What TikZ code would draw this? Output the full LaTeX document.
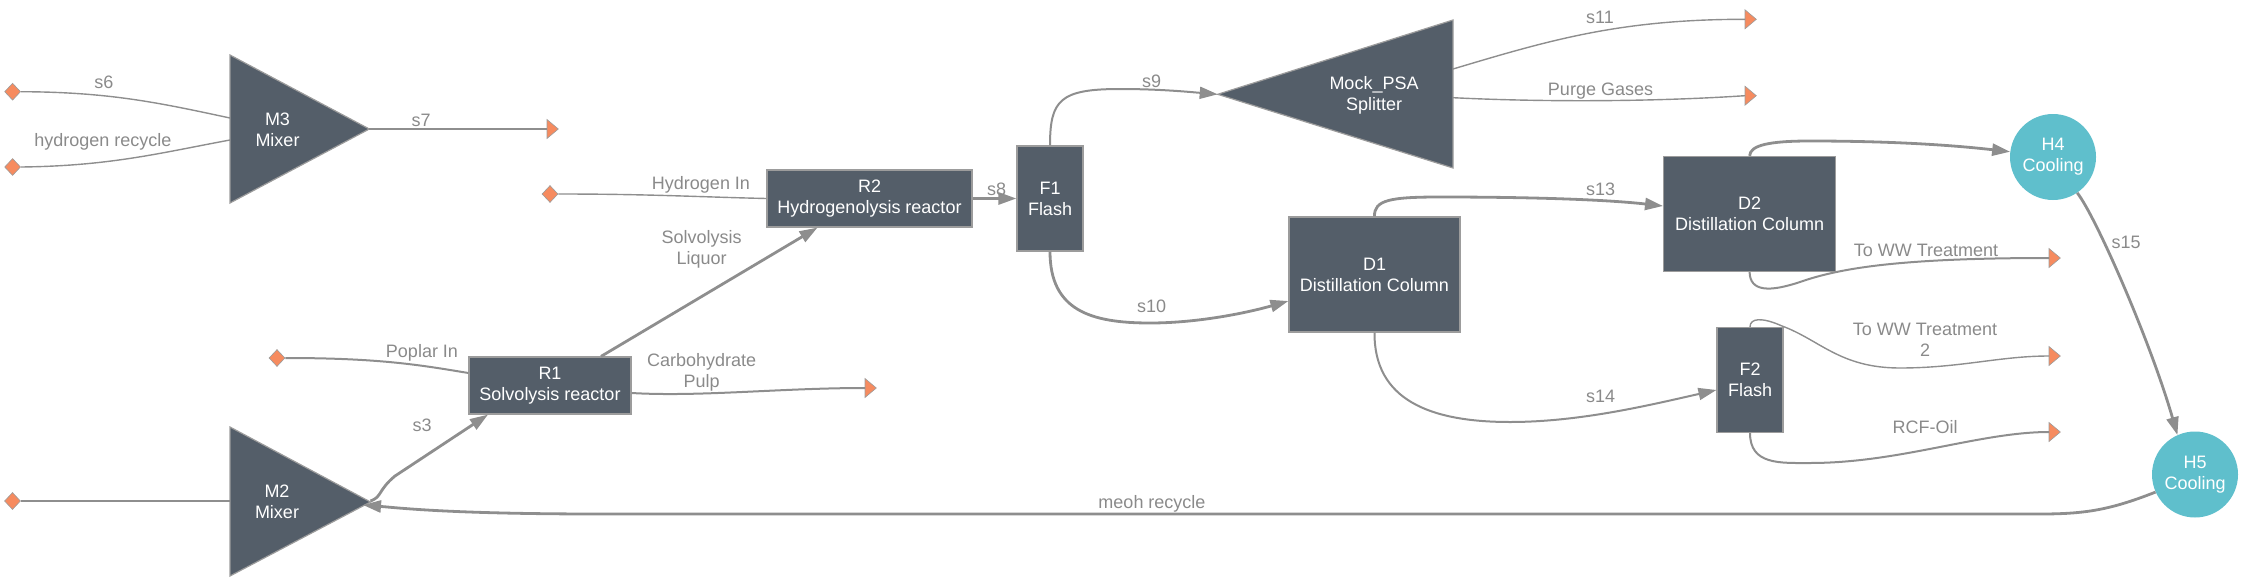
\documentclass[tikz,border=0pt]{standalone}
\usepackage{fontspec}
\setmainfont{Liberation Sans}
\usetikzlibrary{arrows.meta,shapes.geometric}
\definecolor{unitfill}{HTML}{545E69}
\definecolor{unitline}{HTML}{9C9C9C}
\definecolor{edgecol}{HTML}{8E8E8E}
\definecolor{labcol}{HTML}{8A8A8A}
\definecolor{orangec}{HTML}{F68B5F}
\definecolor{tealc}{HTML}{5FBFCC}
\begin{document}
\begin{tikzpicture}[x=1pt,y=-1pt,
  every node/.style={font=\fontsize{18}{21}\selectfont},
  unit/.style={draw=unitline, line width=1.2pt, fill=unitfill, text=white, align=center, inner sep=0pt},
  unitshape/.style={draw=unitline, line width=1.2pt, fill=unitfill},
  hx/.style={circle, fill=tealc, text=white, align=center, minimum size=86pt, inner sep=0pt},
  utext/.style={text=white, align=center, inner sep=0pt},
  lab/.style={text=labcol, align=center, inner sep=0pt},
  src/.style={diamond, fill=orangec, draw=unitline, line width=0.6pt, minimum width=16pt, minimum height=17pt, inner sep=0pt},
  sinkst/.style={fill=orangec, draw=unitline, line width=0.6pt},
  thinln/.style={draw=edgecol, line width=1.4pt},
  midln/.style={draw=edgecol, line width=2pt},
  thickln/.style={draw=edgecol, line width=2.8pt},
  arr/.style={-{Triangle[length=18pt,width=12pt]}},
]
\useasboundingbox (0,0) rectangle (2243,581);

% ---- triangles (mixers / splitter)
\filldraw[unitshape] (230,55) -- (369.3,129) -- (230,203) -- cycle;
\node[utext] (M3) at (277.5,130) {M3\\Mixer};
\coordinate (m3a) at (230,118);
\coordinate (m3b) at (230,140);
\coordinate (m3o) at (369.3,129);

\filldraw[unitshape] (230,427) -- (370.5,502) -- (230,576) -- cycle;
\node[utext] (M2) at (277,502) {M2\\Mixer};
\coordinate (m2a) at (230,501);
\coordinate (m2o) at (370.5,501);
\coordinate (m2i) at (363,505);

\filldraw[unitshape] (1453,20) -- (1217.7,94.3) -- (1453,168) -- cycle;
\node[utext] (PSA) at (1374,95.5) {Mock\_PSA\\Splitter};
\coordinate (psai) at (1217.7,94.3);
\coordinate (psaa) at (1453,69);
\coordinate (psab) at (1453,97.7);

% ---- boxes
\node[unit, minimum width=162pt, minimum height=57pt] (R1) at (550,385.5) {R1\\Solvolysis reactor};
\node[unit, minimum width=205pt, minimum height=57pt] (R2) at (869.5,198.5) {R2\\Hydrogenolysis reactor};
\node[unit, minimum width=66pt, minimum height=105pt] (F1) at (1050,198.5) {F1\\Flash};
\node[unit, minimum width=171pt, minimum height=115pt] (D1) at (1374.5,274.5) {D1\\Distillation Column};
\node[unit, minimum width=172pt, minimum height=115pt] (D2) at (1749.6,214) {D2\\Distillation Column};
\node[unit, minimum width=66pt, minimum height=105pt] (F2) at (1750,380) {F2\\Flash};
\node[hx] (H4) at (2053,157) {H4\\Cooling};
\node[hx] (H5) at (2195,474.5) {H5\\Cooling};

% ---- sources
\node[src] (src6) at (12.6,91.7) {};
\node[src] (srcHR) at (12.6,167) {};
\node[src] (srcH) at (550,194) {};
\node[src] (srcP) at (277,358) {};
\node[src] (srcM) at (12.5,501) {};

% ---- sinks
\coordinate (k7) at (547,129);
\coordinate (kC) at (865,388);
\coordinate (k11) at (1745,19.3);
\coordinate (kP) at (1745,95.7);
\coordinate (kW) at (2049,258);
\coordinate (kW2) at (2049,356);
\coordinate (kR) at (2049,432);
\foreach \k in {k7,kC,k11,kP,kW,kW2,kR}{
  \filldraw[sinkst] (\k) ++(0,-9.5) -- ++(11.3,9.5) -- ++(-11.3,9.5) -- cycle;
}

% ---- connectors
\draw[thinln] (src6.east) .. controls (110,92) and (160,103) .. (m3a);
\node[lab] at (104,82) {s6};
\draw[thinln] (srcHR.east) .. controls (110,166) and (160,153) .. (m3b);
\node[lab] at (103,142) {hydrogen recycle};
\draw[thinln] (m3o) -- (k7);
\node[lab] at (421,120) {s7};

\draw[thinln] (srcH.east) .. controls (650,194) and (700,197) .. (R2.west);
\node[lab] at (701,185) {Hydrogen In};
\draw[midln] (srcP.east) .. controls (380,358) and (420,365) .. ([yshift=12.5pt]R1.west);
\node[lab] at (422,353) {Poplar In};
\draw[midln] (srcM.east) -- (m2a);

\draw[thickln,arr] (m2o) .. controls (382,497) and (378,490) .. (395,476) -- ([xshift=-62pt]R1.south);
\node[lab] at (422,425) {s3};

\draw[thickln,arr] ([xshift=51pt]R1.north) -- ([xshift=-52pt]R2.south);
\node[lab] at (701.7,249.5) {Solvolysis\\Liquor};

\draw[midln] ([yshift=-7.5pt]R1.east) .. controls (700,397) and (780,388) .. (kC);
\node[lab] at (701.7,372.5) {Carbohydrate\\Pulp};

\draw[thickln,arr] (R2.east) -- (F1.west);
\node[lab] at (996.7,189) {s8};

\draw[midln,arr] (F1.north) .. controls (1050,100) and (1060,89) .. (1120,89) .. controls (1160,89) and (1190,92) .. (psai);
\node[lab] at (1151.5,81) {s9};

\draw[thinln] (psaa) .. controls (1550,40) and (1620,19.3) .. (k11);
\node[lab] at (1600,17) {s11};
\draw[thinln] (psab) .. controls (1540,102) and (1650,102) .. (kP);
\node[lab] at (1600.5,90.7) {Purge Gases};

\draw[thickln,arr] (F1.south) .. controls (1050,310) and (1090,323) .. (1150,323) .. controls (1200,323) and (1250,312) .. ([yshift=-26.5pt]D1.west);
\node[lab] at (1151.7,306) {s10};

\draw[thickln,arr] (D1.north) .. controls (1374,200) and (1390,197) .. (1440,197) .. controls (1540,197) and (1610,200) .. ([yshift=8pt]D2.west);
\node[lab] at (1600.7,189) {s13};

\draw[thickln,arr] (D2.north) .. controls (1750,145) and (1770,141) .. (1810,141) .. controls (1900,141) and (1960,146) .. (H4.173);

\draw[midln] (D2.south) .. controls (1750,292) and (1770,292) .. (1800,282) .. controls (1840,268) and (1900,258) .. (kW);
\node[lab] at (1926,250) {To WW Treatment};

\draw[midln,arr] (D1.south) .. controls (1374,400) and (1430,422) .. (1510,422) .. controls (1580,422) and (1650,405) .. ([yshift=-10pt]F2.west);
\node[lab] at (1600.7,396) {s14};

\draw[thinln] (F2.north) .. controls (1750,318) and (1762,317) .. (1782,326) .. controls (1820,340) and (1840,368) .. (1900,368) .. controls (1960,368) and (2000,356) .. (kW2);
\node[lab] at (1925,340) {To WW Treatment\\2};

\draw[midln] (F2.south) .. controls (1750,465) and (1780,463) .. (1810,463) .. controls (1900,463) and (1980,432) .. (kR);
\node[lab] at (1925,427) {RCF-Oil};

\draw[thickln,arr] (H4.-56) .. controls (2095,215) and (2150,340) .. (H5.114);
\node[lab] at (2126,242) {s15};

\draw[thickln,arr] (H5.204) .. controls (2110,510) and (2085,514) .. (2040,514) -- (600,514) .. controls (450,514) and (400,508) .. (m2i);
\node[lab] at (1152,504) {meoh recycle};
\end{tikzpicture}
\end{document}
